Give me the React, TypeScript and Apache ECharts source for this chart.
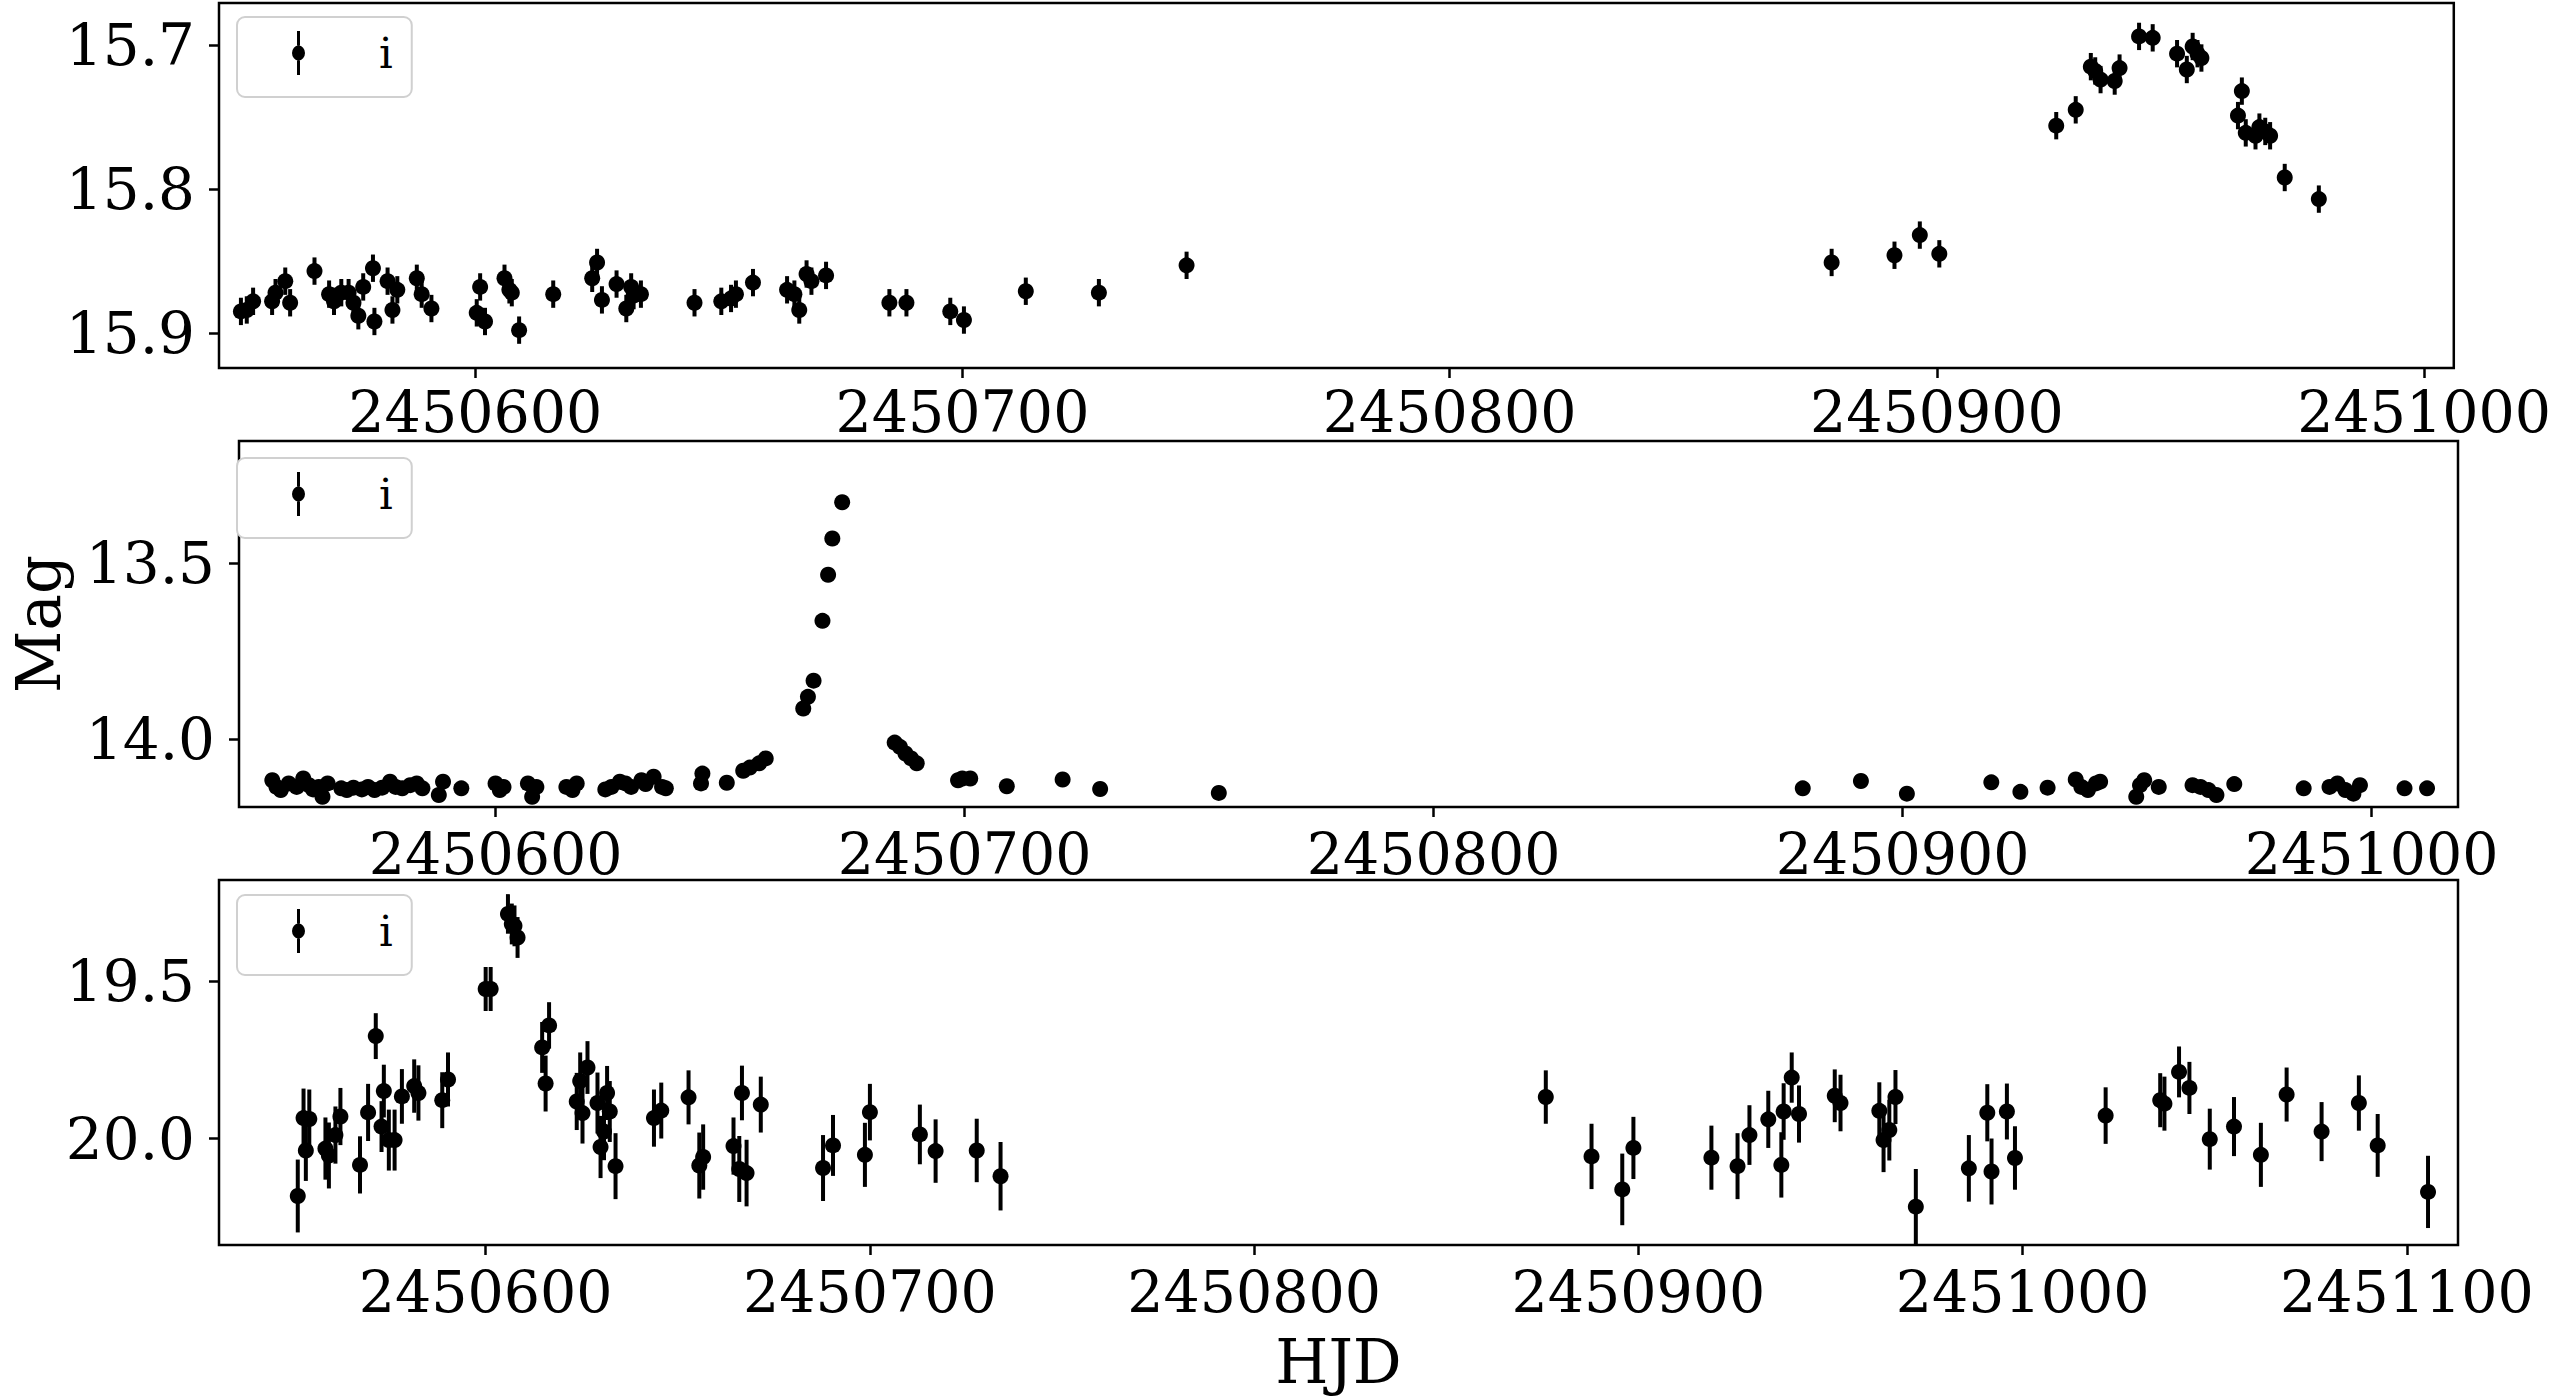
import React, { useEffect, useRef } from "react";
import * as echarts from "echarts";

// ---------- Panel 1 (top) ----------
const P1_HJD = [
  2450551.9, 2450553.1, 2450554.4, 2450558.3, 2450559.0, 2450561.0, 2450562.0, 2450567.0,
  2450570.0, 2450571.0, 2450572.5, 2450574.0, 2450575.0, 2450576.0, 2450577.0, 2450579.0,
  2450579.3, 2450582.0, 2450583.0, 2450584.0, 2450588.0, 2450589.0, 2450591.0, 2450600.3,
  2450601.0, 2450602.0, 2450606.0, 2450607.0, 2450607.5, 2450609.0, 2450616.0, 2450624.0,
  2450625.0, 2450626.0, 2450629.0, 2450631.0, 2450632.0, 2450632.5, 2450634.0, 2450645.0,
  2450650.5, 2450652.5, 2450653.5, 2450657.0, 2450664.0, 2450665.5, 2450666.5, 2450668.0,
  2450669.0, 2450672.0, 2450685.0, 2450688.5, 2450697.5, 2450700.3, 2450713.0, 2450728.0,
  2450746.0,
  2450878.4, 2450891.3, 2450896.5, 2450900.5, 2450924.5, 2450928.5, 2450931.6, 2450932.5,
  2450933.6, 2450936.5, 2450937.5, 2450941.5, 2450944.3, 2450949.3, 2450951.3, 2450952.5,
  2450953.5, 2450954.3, 2450961.8, 2450962.6, 2450963.4, 2450965.4, 2450966.2, 2450967.4,
  2450968.4, 2450971.4, 2450978.4,
];
const P1_MAG = [
  15.885, 15.884, 15.878, 15.878, 15.872, 15.864, 15.879, 15.857,
  15.873, 15.878, 15.872, 15.872, 15.879, 15.888, 15.868, 15.855,
  15.892, 15.864, 15.884, 15.870, 15.862, 15.873, 15.883, 15.886,
  15.868, 15.892, 15.862, 15.870, 15.872, 15.898, 15.873, 15.862,
  15.851, 15.877, 15.866, 15.883, 15.868, 15.874, 15.873, 15.879,
  15.878, 15.876, 15.873, 15.865, 15.870, 15.873, 15.884, 15.859,
  15.864, 15.860, 15.879, 15.879, 15.885, 15.891, 15.871, 15.872,
  15.853,
  15.851, 15.846, 15.832, 15.845, 15.756, 15.745, 15.715, 15.718,
  15.724, 15.725, 15.716, 15.694, 15.695, 15.706, 15.717, 15.701,
  15.706, 15.709, 15.749, 15.732, 15.761, 15.763, 15.757, 15.760,
  15.763, 15.792, 15.807,
];
const P1_ERR = 0.0095;

// ---------- Panel 2 (middle) ----------
const P2_HJD = [
  2450552.4, 2450553.3, 2450554.2, 2450555.9, 2450557.6, 2450559.0, 2450560.2, 2450561.1,
  2450562.3, 2450563.1, 2450564.2, 2450567.1, 2450568.3, 2450569.7, 2450571.5, 2450572.8,
  2450574.2, 2450575.8, 2450577.5, 2450578.7, 2450580.1, 2450581.8, 2450583.2, 2450584.4,
  2450587.9, 2450588.8, 2450592.7, 2450600.0, 2450600.9, 2450601.7, 2450606.9, 2450607.8,
  2450608.7, 2450615.1, 2450616.4, 2450617.3, 2450623.4, 2450624.7, 2450626.5, 2450627.7,
  2450628.9, 2450631.1, 2450632.0, 2450633.7, 2450635.5, 2450636.3,
  2450643.8, 2450644.1, 2450649.3, 2450652.8, 2450654.2, 2450656.2, 2450657.6,
  2450665.6, 2450666.6, 2450667.8, 2450669.7, 2450670.9, 2450671.8, 2450673.9,
  2450685.1, 2450686.2, 2450687.4, 2450688.6, 2450689.8,
  2450698.6, 2450699.5, 2450701.2, 2450709.0, 2450720.9, 2450728.9, 2450754.2,
  2450878.7, 2450891.1, 2450900.9, 2450918.9, 2450925.1, 2450930.9, 2450936.9, 2450938.1,
  2450939.5, 2450941.2, 2450942.1, 2450949.8, 2450950.6, 2450951.5, 2450954.6, 2450961.8,
  2450963.5, 2450965.2, 2450966.9, 2450970.7, 2450985.5, 2450991.0, 2450992.7, 2450994.4,
  2450996.1, 2450997.5, 2451007.0, 2451011.8,
];
const P2_MAG = [
  14.117, 14.136, 14.145, 14.126, 14.136, 14.112, 14.131, 14.143,
  14.136, 14.164, 14.126, 14.140, 14.145, 14.138, 14.143, 14.136,
  14.145, 14.138, 14.121, 14.136, 14.140, 14.131, 14.126, 14.140,
  14.159, 14.121, 14.140, 14.126, 14.145, 14.136, 14.126, 14.164,
  14.136, 14.136, 14.145, 14.126, 14.143, 14.136, 14.121, 14.126,
  14.136, 14.117, 14.128, 14.107, 14.136, 14.140,
  14.126, 14.098, 14.124, 14.090, 14.081, 14.069, 14.055,
  13.913, 13.880, 13.834, 13.664, 13.533, 13.430, 13.327,
  14.010, 14.022, 14.041, 14.055, 14.069,
  14.117, 14.112, 14.112, 14.134, 14.115, 14.142, 14.153,
  14.140, 14.119, 14.155, 14.123, 14.150, 14.138, 14.115, 14.136,
  14.145, 14.126, 14.121, 14.164, 14.131, 14.117, 14.136, 14.131,
  14.136, 14.145, 14.159, 14.128, 14.140, 14.136, 14.126, 14.145,
  14.155, 14.131, 14.140, 14.140,
];
const P2_ERR = 0.006;

// ---------- Panel 3 (bottom) ----------
const P3_HJD = [
  2450551.1, 2450552.6, 2450554.1, 2450553.2, 2450558.3, 2450559.2, 2450560.9, 2450562.2,
  2450567.3, 2450569.4, 2450571.4, 2450572.9, 2450573.5, 2450574.8, 2450576.3, 2450578.2,
  2450581.4, 2450582.5, 2450588.7, 2450590.2, 2450600.0, 2450601.3, 2450605.8, 2450606.8,
  2450607.5, 2450608.3, 2450614.7, 2450616.5, 2450615.6, 2450623.7, 2450624.6, 2450625.2,
  2450626.5, 2450629.1, 2450629.9, 2450630.8, 2450631.6, 2450632.3, 2450633.8, 2450643.8,
  2450645.7, 2450652.8, 2450655.6, 2450656.6, 2450664.5, 2450666.7, 2450666.0, 2450667.9,
  2450671.6, 2450687.8, 2450690.4, 2450698.7, 2450700.0, 2450713.0, 2450717.1, 2450727.8,
  2450734.0,
  2450875.9, 2450887.8, 2450895.8, 2450898.7, 2450919.0, 2450925.8, 2450928.9, 2450933.8,
  2450937.2, 2450937.8, 2450939.9, 2450941.8, 2450951.1, 2450952.6, 2450962.7, 2450963.8,
  2450965.3, 2450966.9, 2450972.2, 2450986.0, 2450990.8, 2450991.9, 2450995.9, 2450998.0,
  2451021.6, 2451035.8, 2451036.9, 2451040.7, 2451043.4, 2451048.7, 2451055.0, 2451062.0,
  2451068.7, 2451077.8, 2451087.5, 2451092.4, 2451105.5,
];
const P3_MAG = [
  20.183, 19.935, 19.938, 20.038, 20.032, 20.054, 19.989, 19.930,
  20.084, 19.917, 19.674, 19.962, 19.849, 20.005, 20.005, 19.866,
  19.833, 19.855, 19.878, 19.812, 19.524, 19.524, 19.285, 19.317,
  19.323, 19.360, 19.710, 19.640, 19.825, 19.882, 19.817, 19.919,
  19.774, 19.887, 20.027, 19.978, 19.855, 19.914, 20.088, 19.935,
  19.911, 19.869, 20.086, 20.059, 20.024, 19.855, 20.097, 20.110,
  19.892, 20.094, 20.022, 20.052, 19.916, 19.987, 20.040, 20.038,
  20.120,
  19.868, 20.057, 20.162, 20.030, 20.061, 20.088, 19.989, 19.939,
  20.084, 19.914, 19.806, 19.922, 19.864, 19.887, 19.912, 20.005,
  19.973, 19.868, 20.217, 20.095, 19.918, 20.105, 19.914, 20.062,
  19.927, 19.878, 19.889, 19.788, 19.839, 20.002, 19.962, 20.052,
  19.860, 19.978, 19.887, 20.022, 20.170,
];
const P3_ERR = [
  0.116, 0.094, 0.094, 0.097, 0.099, 0.105, 0.091, 0.091,
  0.091, 0.091, 0.073, 0.081, 0.084, 0.097, 0.097, 0.087,
  0.085, 0.088, 0.089, 0.086, 0.070, 0.070, 0.063, 0.065,
  0.065, 0.065, 0.081, 0.074, 0.089, 0.091, 0.091, 0.097,
  0.084, 0.097, 0.099, 0.091, 0.086, 0.097, 0.105, 0.091,
  0.089, 0.086, 0.105, 0.104, 0.091, 0.087, 0.105, 0.106,
  0.089, 0.105, 0.097, 0.102, 0.090, 0.095, 0.101, 0.101,
  0.109,
  0.085, 0.104, 0.114, 0.099, 0.102, 0.105, 0.095, 0.091,
  0.104, 0.090, 0.080, 0.091, 0.084, 0.090, 0.091, 0.102,
  0.097, 0.086, 0.120, 0.106, 0.091, 0.105, 0.089, 0.101,
  0.090, 0.086, 0.086, 0.081, 0.083, 0.097, 0.094, 0.102,
  0.086, 0.094, 0.088, 0.100, 0.115,
];

// ---------- axes ----------
const X_TICKS_1 = [2450600, 2450700, 2450800, 2450900, 2451000];
const X_TICKS_2 = [2450600, 2450700, 2450800, 2450900, 2451000];
const X_TICKS_3 = [2450600, 2450700, 2450800, 2450900, 2451000, 2451100];
const Y_TICKS_1 = [15.7, 15.8, 15.9];
const Y_TICKS_2 = [13.5, 14.0];
const Y_TICKS_3 = [19.5, 20.0];
const X_RANGE_1 = [2450547.4, 2451006.1];
const X_RANGE_2 = [2450545.3, 2451018.4];
const X_RANGE_3 = [2450530.6, 2451113.3];
const Y_RANGE_1 = [15.6708, 15.9243];
const Y_RANGE_2 = [13.153, 14.193];
const Y_RANGE_3 = [19.177, 20.339];
const BAND = "i";
const X_LABEL = "HJD";
const Y_LABEL = "Mag";

const FONT = "DejaVu Serif";

const ICON =
  "path://M0,22 A6.5,7.5 0 1,0 13,22 A6.5,7.5 0 1,0 0,22 Z M5,0 L8,0 L8,14.5 L5,14.5 Z M5,29.5 L8,29.5 L8,44 L5,44 Z";

function renderErr(params: any, api: any) {
  const x = api.value(0);
  const y = api.value(1);
  const e = api.value(2);
  const c = api.coord([x, y]);
  const lo = api.coord([x, y - e]);
  const hi = api.coord([x, y + e]);
  return {
    type: "group",
    children: [
      {
        type: "line",
        shape: { x1: c[0], y1: lo[1], x2: c[0], y2: hi[1] },
        style: { stroke: "#000", lineWidth: 4 },
      },
      {
        type: "circle",
        shape: { cx: c[0], cy: c[1], r: 8 },
        style: { fill: "#000" },
      },
    ],
  };
}

export default function App() {
  const ref = useRef<HTMLDivElement>(null);

  useEffect(() => {
    document.body.style.margin = "0";
    if (!ref.current) return;
    const chart = echarts.init(ref.current, undefined, { renderer: "svg" });

    const panels = [
      {
        data: P1_HJD.map((x, i) => [x, P1_MAG[i], P1_ERR]),
        xr: X_RANGE_1, yr: Y_RANGE_1, xt: X_TICKS_1, yt: Y_TICKS_1,
        grid: { left: 219, top: 3, width: 2239, height: 365 },
        xMargin: 15, legendTop: 17,
      },
      {
        data: P2_HJD.map((x, i) => [x, P2_MAG[i], P2_ERR]),
        xr: X_RANGE_2, yr: Y_RANGE_2, xt: X_TICKS_2, yt: Y_TICKS_2,
        grid: { left: 219, top: 441, width: 2239, height: 366 },
        xMargin: 18, legendTop: 458,
      },
      {
        data: P3_HJD.map((x, i) => [x, P3_MAG[i], P3_ERR[i]]),
        xr: X_RANGE_3, yr: Y_RANGE_3, xt: X_TICKS_3, yt: Y_TICKS_3,
        grid: { left: 219, top: 880, width: 2239, height: 365 },
        xMargin: 18, legendTop: 895,
      },
    ];

    const tickStyle = { color: "#000", width: 2.5 };

    chart.setOption({
      animation: false,
      backgroundColor: "#fff",
      grid: panels.map((p) => ({
        ...p.grid,
        show: true,
        borderColor: "#000",
        borderWidth: 2.5,
        backgroundColor: "transparent",
        containLabel: false,
      })),
      xAxis: panels.map((p, i) => ({
        type: "value",
        gridIndex: i,
        min: p.xr[0],
        max: p.xr[1],
        axisLine: { show: false },
        splitLine: { show: false },
        axisTick: { show: true, length: 10, lineStyle: tickStyle, customValues: p.xt },
        axisLabel: {
          customValues: p.xt,
          margin: p.xMargin,
          fontFamily: FONT,
          fontSize: 57,
          color: "#000",
          formatter: (v: number) => String(Math.round(v)),
        },
        ...(i === 2
          ? {
              name: X_LABEL,
              nameLocation: "middle",
              nameGap: 86,
              nameTextStyle: { fontFamily: FONT, fontSize: 61, color: "#000" },
            }
          : {}),
      })),
      yAxis: panels.map((p, i) => ({
        type: "value",
        gridIndex: i,
        inverse: true,
        min: p.yr[0],
        max: p.yr[1],
        axisLine: { show: false },
        splitLine: { show: false },
        axisTick: { show: true, length: 10, lineStyle: tickStyle, customValues: p.yt },
        axisLabel: {
          customValues: p.yt,
          margin: 24,
          fontFamily: FONT,
          fontSize: 58,
          color: "#000",
          formatter: (v: number) => v.toFixed(1),
        },
        ...(i === 1
          ? {
              name: Y_LABEL,
              nameLocation: "middle",
              nameRotate: 90,
              nameGap: 170,
              nameTextStyle: { fontFamily: FONT, fontSize: 61, color: "#000" },
            }
          : {}),
      })),
      legend: panels.map((p) => ({
        left: 237,
        top: p.legendTop,
        orient: "horizontal",
        selectedMode: false,
        data: [{ name: BAND, icon: ICON, itemStyle: { color: "#000" } }],
        itemWidth: 13,
        itemHeight: 44,
        padding: [14, 19, 22, 55],
        backgroundColor: "#fff",
        borderColor: "#d0d0d0",
        borderWidth: 2,
        borderRadius: 8,
        textStyle: { fontFamily: FONT, fontSize: 43, color: "#000", padding: [0, 0, 0, 69] },
      })),
      series: panels.map((p, i) => ({
        type: "custom",
        name: BAND,
        xAxisIndex: i,
        yAxisIndex: i,
        clip: true,
        itemStyle: { color: "#000" },
        encode: { x: 0, y: 1 },
        renderItem: renderErr,
        data: p.data,
      })),
    });

    return () => chart.dispose();
  }, []);

  return <div ref={ref} style={{ width: 2554, height: 1400, background: "#fff" }} />;
}
